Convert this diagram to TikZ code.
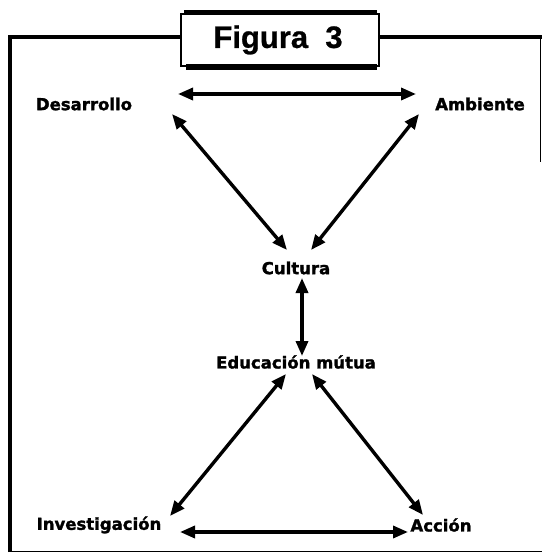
\documentclass[tikz,border=0pt]{standalone}
\usepackage{fontspec}
\setmainfont{DejaVu Sans}
\newfontfamily\lblfont[FakeBold=1.6]{DejaVu Sans Bold}
\newfontfamily\titlefont[FakeBold=0.8]{Liberation Sans Bold}
\usetikzlibrary{arrows.meta,calc}
\tikzset{
  lbl/.style={font=\lblfont\fontsize{16.5}{18}\selectfont, inner sep=0pt},
  arr/.style={line width=3.4pt, {Triangle[length=15pt,width=12pt]}-{Triangle[length=15pt,width=12pt]}},
  thickframe/.style={line width=4pt},
  thinframe/.style={line width=0.8pt}
}
\begin{document}
\begin{tikzpicture}[x=1pt,y=-1pt]
\useasboundingbox (0,0) rectangle (542,554);
% frame
\draw[thickframe] (10,552) -- (10,37) -- (181,37);
\draw[thickframe] (379,37) -- (542,37);
\draw[thinframe] (540,37) -- (540,162);
\draw[thinframe] (10,551) -- (542,551);
% title box
\draw[line width=1.4pt] (181,14) rectangle (379,66);
\draw[line width=4pt] (184,12) -- (377,12);
\draw[line width=6pt] (186,67) -- (377,67);
\node[inner sep=0pt, font=\titlefont\fontsize{31}{34}\selectfont] (title) at (278,40) {Figura\ \ 3};
% labels
\node[lbl] (des) at (84,104) {Desarrollo};
\node[lbl] (amb) at (480,104) {Ambiente};
\node[lbl] (cul) at (296,268) {Cultura};
\node[lbl] (edu) at (296,362) {Educación mútua};
\node[lbl] (inv) at (99,525) {Investigación};
\node[lbl] (acc) at (441,525) {Acción};
% arrows
\draw[arr] ($(des)+(94,-10)$) -- ($(amb)+(-64,-10)$);
\draw[arr] ($(des)+(88,10)$) -- ($(cul)+(-9,-18)$);
\draw[arr] ($(amb)+(-61,10)$) -- ($(cul)+(15,-18)$);
\draw[arr] ($(cul)+(6,10)$) -- ($(edu)+(6,-6)$);
\draw[arr] ($(edu)+(-10,12)$) -- ($(inv)+(71,-9)$);
\draw[arr] ($(edu)+(16,12)$) -- ($(acc)+(-18,-10)$);
\draw[arr] ($(inv)+(81,7)$) -- ($(acc)+(-33,7)$);
\end{tikzpicture}
\end{document}
